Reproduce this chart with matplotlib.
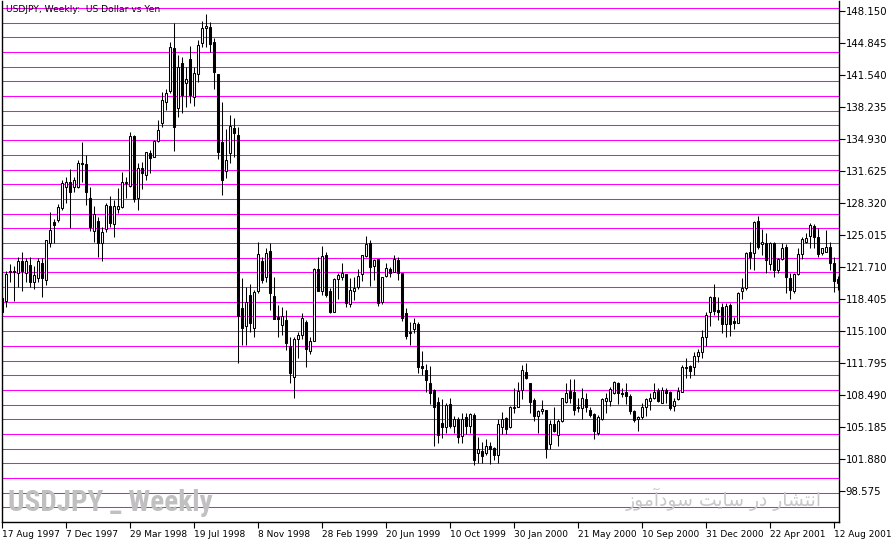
import numpy as np
import pandas as pd
import matplotlib
matplotlib.use("Agg")
import matplotlib.pyplot as plt

# weekly USDJPY candles (first bar = 17 Aug 1997)
opens = [118.46, 118.18, 121.15, 121.25, 121.04, 122.31, 121.10, 121.87, 120.18, 120.59,
         122.07, 120.38, 124.20, 126.34, 126.54, 127.75, 129.92, 130.43, 129.92, 129.92,
         132.40, 132.29, 128.78, 125.44, 126.44, 124.20, 125.61, 127.99, 126.10, 127.71,
         127.85, 130.40, 130.08, 135.21, 128.78, 131.88, 131.19, 133.43, 133.08, 134.73,
         136.59, 138.75, 139.89, 144.26, 138.07, 142.72, 140.65, 143.13, 139.27, 141.58,
         144.84, 146.33, 146.49, 144.95, 141.61, 134.63, 131.60, 133.49, 136.07, 135.32,
         117.43, 115.60, 118.80, 115.37, 119.25, 122.31, 120.63, 123.34, 118.70, 116.56,
         115.68, 116.22, 113.54, 110.31, 114.23, 114.67, 116.05, 113.05, 114.09, 121.49,
         119.25, 122.93, 119.22, 117.02, 120.42, 120.69, 120.97, 117.87, 119.25, 119.60,
         120.94, 122.86, 124.14, 121.83, 122.49, 118.11, 120.80, 121.46, 121.21, 122.42,
         121.10, 116.91, 114.91, 115.26, 115.81, 111.48, 111.03, 109.69, 109.00, 107.73,
         105.62, 105.15, 107.55, 105.31, 105.97, 104.25, 106.18, 105.28, 106.42, 102.46,
         102.70, 102.53, 103.22, 102.98, 102.29, 105.15, 106.08, 105.15, 107.14, 107.27,
         109.00, 110.89, 109.69, 107.97, 106.35, 106.86, 106.93, 103.39, 105.49, 104.35,
         105.83, 107.79, 108.89, 108.76, 107.17, 107.11, 108.04, 106.93, 106.52, 104.59,
         106.01, 107.89, 107.86, 108.72, 109.75, 108.72, 108.76, 108.41, 106.83, 105.97,
         106.18, 107.27, 107.89, 108.20, 109.00, 107.69, 109.00, 108.76, 107.35, 108.04,
         108.82, 111.40, 111.48, 111.42, 112.55, 112.95, 114.44, 117.08, 118.57, 117.25,
         117.60, 115.78, 117.77, 116.10, 115.94, 119.25, 119.56, 123.21, 123.11, 126.47,
         124.04, 124.20, 121.97, 124.20, 121.38, 122.49, 123.79, 120.53, 119.25, 120.97,
         123.03, 124.30, 124.89, 125.96, 124.76, 123.11, 123.27, 123.79, 122.14, 120.42]
highs = [118.70, 121.31, 121.97, 121.80, 122.76, 123.24, 122.59, 122.76, 121.80, 122.59,
         122.59, 124.45, 127.37, 126.62, 128.20, 130.67, 130.95, 131.81, 131.01, 132.74,
         134.63, 133.25, 129.92, 127.99, 126.88, 125.85, 128.33, 129.05, 128.61, 129.82,
         131.47, 130.95, 135.66, 135.32, 132.43, 132.56, 133.59, 133.77, 134.80, 136.86,
         139.79, 140.03, 144.95, 146.85, 143.57, 143.40, 142.37, 144.50, 142.37, 145.12,
         147.11, 147.81, 147.01, 145.30, 141.61, 138.75, 135.90, 137.38, 137.04, 136.11,
         120.53, 119.66, 119.94, 119.32, 124.24, 122.76, 123.62, 124.14, 120.69, 117.77,
         117.60, 117.25, 114.44, 114.44, 115.01, 116.91, 116.22, 114.50, 121.62, 122.76,
         123.86, 123.27, 119.49, 120.59, 121.10, 122.07, 120.97, 120.53, 120.63, 121.49,
         122.93, 124.89, 124.48, 122.52, 122.49, 120.63, 122.07, 121.66, 122.93, 122.69,
         121.10, 117.43, 116.05, 116.40, 116.05, 113.02, 111.65, 111.53, 109.07, 108.31,
         108.07, 107.63, 108.14, 106.31, 106.24, 106.66, 106.66, 106.66, 106.66, 104.12,
         103.66, 103.91, 103.60, 103.08, 105.97, 106.76, 106.24, 107.35, 109.17, 109.85,
         111.58, 111.75, 109.69, 108.14, 106.93, 107.97, 106.93, 105.90, 107.27, 105.97,
         108.14, 109.69, 110.13, 110.13, 108.14, 109.17, 108.66, 107.27, 106.66, 106.42,
         108.14, 108.66, 109.34, 109.96, 109.85, 109.17, 109.69, 108.59, 106.93, 106.31,
         107.63, 108.14, 108.66, 109.69, 109.17, 109.28, 109.17, 108.89, 108.14, 109.28,
         111.58, 112.27, 111.58, 112.95, 113.23, 115.19, 117.08, 118.70, 119.94, 118.57,
         117.95, 117.95, 118.01, 116.56, 119.14, 120.53, 123.27, 124.30, 126.47, 126.96,
         125.58, 125.17, 124.30, 124.30, 122.59, 124.20, 124.07, 121.04, 121.04, 123.62,
         124.76, 125.17, 126.20, 126.13, 125.69, 123.69, 125.51, 124.30, 122.76, 120.76]
lows = [116.94, 117.60, 120.18, 118.18, 119.66, 119.25, 120.18, 119.60, 119.39, 120.18,
        118.63, 119.84, 123.79, 124.20, 126.37, 127.58, 128.27, 125.75, 129.46, 129.82,
        130.50, 128.09, 125.44, 124.30, 122.76, 122.34, 125.34, 125.79, 124.76, 127.24,
        127.75, 128.78, 129.95, 128.43, 127.58, 129.71, 130.67, 131.36, 133.08, 134.63,
        136.17, 137.90, 139.62, 133.70, 137.14, 137.56, 138.18, 138.59, 138.31, 140.82,
        144.43, 144.43, 143.91, 140.03, 132.81, 129.12, 130.91, 132.40, 133.08, 111.75,
        113.64, 113.64, 115.01, 114.44, 119.04, 120.01, 120.18, 117.25, 116.29, 114.50,
        114.67, 113.13, 109.75, 108.20, 112.33, 114.23, 111.40, 112.71, 114.09, 119.25,
        118.80, 118.63, 116.91, 117.02, 118.39, 120.35, 117.53, 117.60, 118.29, 119.42,
        120.25, 122.76, 119.76, 120.35, 117.70, 117.87, 120.69, 120.63, 121.15, 120.35,
        116.15, 114.23, 113.64, 114.85, 110.75, 110.55, 108.79, 107.55, 103.22, 103.50,
        104.01, 104.53, 105.05, 104.53, 103.50, 103.50, 104.46, 104.53, 101.26, 101.43,
        101.43, 102.29, 101.33, 101.77, 101.43, 104.46, 104.46, 105.05, 106.66, 107.27,
        108.04, 110.10, 106.59, 105.80, 104.59, 106.52, 102.01, 102.88, 104.70, 103.25,
        105.73, 107.63, 107.69, 106.42, 106.76, 105.97, 106.76, 106.24, 103.94, 104.35,
        105.90, 106.59, 107.35, 108.55, 107.55, 108.31, 107.52, 106.52, 105.73, 104.80,
        105.97, 106.31, 106.93, 108.07, 107.79, 107.63, 107.69, 106.93, 106.86, 107.97,
        108.82, 110.21, 110.21, 110.55, 111.89, 112.30, 113.57, 115.60, 116.74, 116.22,
        114.91, 114.44, 114.57, 115.26, 115.88, 118.36, 119.32, 121.46, 121.38, 123.52,
        122.93, 121.04, 121.38, 120.63, 121.10, 122.42, 119.04, 118.36, 118.98, 120.87,
        122.52, 124.20, 123.69, 123.62, 122.76, 122.93, 123.27, 121.38, 119.14, 119.32]
closes = [117.08, 120.97, 121.25, 121.20, 122.31, 121.31, 122.31, 120.18, 120.84, 122.31,
          120.53, 124.45, 125.48, 126.08, 127.92, 130.33, 130.43, 129.40, 130.67, 132.40,
          132.29, 129.40, 125.85, 127.16, 124.14, 125.31, 128.09, 126.20, 127.99, 127.99,
          130.43, 130.46, 135.21, 128.68, 131.88, 131.36, 133.53, 132.91, 134.70, 135.83,
          138.93, 139.68, 144.37, 136.11, 142.37, 139.45, 141.10, 139.45, 141.75, 144.61,
          146.33, 146.57, 144.68, 141.85, 133.59, 130.67, 132.74, 136.25, 135.55, 116.64,
          115.37, 118.11, 115.88, 119.08, 123.00, 120.35, 123.11, 118.98, 116.29, 116.29,
          116.64, 113.82, 110.78, 114.23, 114.67, 116.40, 113.20, 114.06, 121.49, 119.25,
          122.83, 118.80, 117.08, 120.45, 120.87, 121.04, 117.95, 119.32, 119.56, 120.80,
          122.93, 124.07, 121.66, 122.42, 117.95, 120.63, 121.56, 121.04, 122.49, 121.04,
          116.46, 114.60, 115.01, 115.88, 111.34, 111.30, 110.06, 108.72, 107.21, 104.35,
          105.21, 107.45, 105.28, 105.97, 104.12, 105.97, 105.28, 106.52, 101.77, 102.88,
          102.19, 103.25, 102.94, 102.29, 105.49, 106.01, 104.94, 107.21, 107.21, 108.89,
          111.06, 110.27, 107.79, 106.35, 106.83, 107.01, 102.88, 105.49, 104.77, 105.83,
          108.14, 108.66, 108.20, 106.93, 107.27, 108.14, 107.21, 106.42, 104.77, 106.18,
          108.04, 108.14, 109.07, 109.85, 108.66, 108.55, 108.41, 106.86, 105.90, 106.18,
          107.21, 108.04, 108.20, 108.82, 107.89, 109.00, 108.66, 107.11, 107.89, 108.89,
          111.34, 111.24, 110.99, 112.56, 112.89, 114.44, 116.74, 118.63, 117.18, 117.08,
          115.81, 117.70, 115.81, 115.95, 119.01, 119.56, 123.11, 122.76, 126.37, 123.79,
          124.30, 122.42, 124.20, 121.38, 122.49, 123.62, 120.69, 119.32, 120.97, 123.03,
          124.55, 124.65, 126.03, 124.82, 123.03, 123.62, 123.73, 122.14, 120.25, 120.07]

first_week = "1997-08-17"
price_ticks = [98.575 + 3.305 * k for k in range(16)]
level_start, level_step, level_count = 95.37, 1.516, 36   # magenta horizontal lines

title = "USDJPY, Weekly:  US Dollar vs Yen"
mark_left = "USDJPY _ Weekly"
mark_right = "انتشار در سایت سودآموز"

# matplotlib has no arabic shaping, so pick the joined glyph forms by hand
FORMS = {  # isolated, final, initial, medial
    "ا": ("\uFE8D", "\uFE8E", None, None),
    "آ": ("\uFE81", "\uFE82", None, None),
    "د": ("\uFEA9", "\uFEAA", None, None),
    "ر": ("\uFEAD", "\uFEAE", None, None),
    "ز": ("\uFEAF", "\uFEB0", None, None),
    "و": ("\uFEED", "\uFEEE", None, None),
    "ن": ("\uFEE5", "\uFEE6", "\uFEE7", "\uFEE8"),
    "ت": ("\uFE95", "\uFE96", "\uFE97", "\uFE98"),
    "ش": ("\uFEB5", "\uFEB6", "\uFEB7", "\uFEB8"),
    "س": ("\uFEB1", "\uFEB2", "\uFEB3", "\uFEB4"),
    "م": ("\uFEE1", "\uFEE2", "\uFEE3", "\uFEE4"),
    "ی": ("\uFEEF", "\uFEF0", "\uFEF3", "\uFEF4"),
}

def shape(text):
    out = []
    for i, ch in enumerate(text):
        if ch not in FORMS:
            out.append(ch)
            continue
        prev = text[i - 1] if i > 0 else " "
        nxt = text[i + 1] if i + 1 < len(text) else " "
        join_prev = prev in FORMS and FORMS[prev][2] is not None
        join_next = nxt in FORMS and FORMS[ch][2] is not None
        iso, fin, ini, med = FORMS[ch]
        if join_prev and join_next:
            out.append(med)
        elif join_prev:
            out.append(fin)
        elif join_next:
            out.append(ini)
        else:
            out.append(iso)
    return "".join(reversed(out))


W, H = 892, 543
fig = plt.figure(figsize=(W / 100, H / 100), dpi=100)
ax = fig.add_axes([2 / W, 21 / H, 836.5 / W, 521 / H])

n = len(opens)
x = np.arange(n)
o = np.array(opens); c = np.array(closes)
hi = np.array(highs); lo = np.array(lows)

levels = level_start + level_step * np.arange(level_count)
ax.hlines(levels, -1, n + 1, colors="#FF00FF", linewidth=0.75, zorder=1)

ax.vlines(x, lo, hi, colors="black", linewidth=0.75, zorder=2)
up = c >= o
body_lo = np.minimum(o, c)
body_h = np.abs(c - o)
ax.bar(x[up], body_h[up], bottom=body_lo[up], width=0.5, color="white",
       edgecolor="black", linewidth=0.75, zorder=3)
ax.bar(x[~up], body_h[~up], bottom=body_lo[~up], width=0.5, color="black",
       edgecolor="black", linewidth=0.75, zorder=3)

ax.set_xlim(-0.08, 209.05)
ax.set_ylim(95.378, 149.15)

ax.spines["top"].set_visible(False)
for s in ["left", "right", "bottom"]:
    ax.spines[s].set_linewidth(1.0)
    ax.spines[s].set_color("black")

ax.yaxis.tick_right()
ax.set_yticks(price_ticks)
ax.set_yticklabels([f"{p:.3f}" for p in price_ticks])
ax.tick_params(axis="y", length=4, width=0.8, pad=1, labelsize=7.3, colors="black")

dates = pd.date_range(first_week, periods=n, freq="7D")
tick_idx = list(range(0, n, 16))
ax.set_xticks(tick_idx)
ax.set_xticklabels([f"{dates[i].day} {dates[i].strftime('%b %Y')}" for i in tick_idx],
                   ha="left")
ax.tick_params(axis="x", length=4, width=0.8, pad=1.5, labelsize=6.5, colors="black")

fig.text(6 / W, 1 - 10 / H, title, fontsize=6.6, va="center", ha="left")

fig.text(8 / W, 1 - 503 / H, mark_left, fontsize=21, fontweight="bold",
         family=["Roboto Condensed", "Liberation Sans Narrow", "Liberation Sans"],
         color="#C0C0C0", va="center", ha="left", zorder=0.5)
fig.text(822 / W, 1 - 499 / H, shape(mark_right), fontsize=13.5,
         family=["DejaVu Sans"], color="#C8C8C8", va="center", ha="right", zorder=0.5)

fig.savefig("out.png", dpi=100)
